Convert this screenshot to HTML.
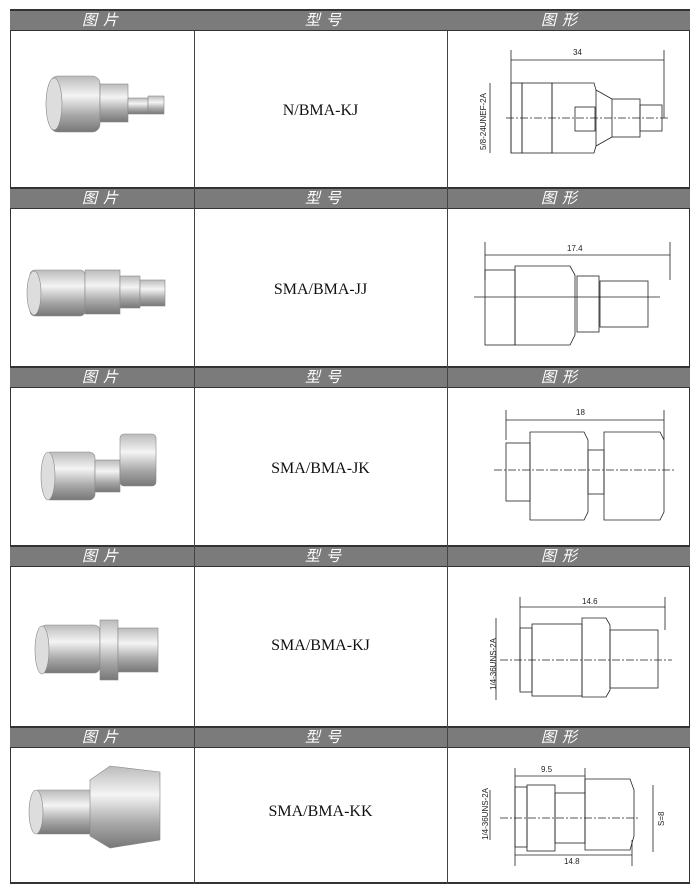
<!DOCTYPE html>
<html><head><meta charset="utf-8"><style>
body{margin:0;background:#fff;width:700px;height:888px;position:relative;overflow:hidden;font-family:"Liberation Serif","Noto Serif CJK SC",serif}
.h{position:absolute;left:10px;width:680px;height:22px;background:#7b7b7b;border-top:2px solid #333;border-bottom:1px solid #333;box-sizing:border-box}
.h span{position:absolute;top:0px;line-height:19px;color:#fff;font-style:italic;font-size:15px;font-family:"Liberation Sans","Noto Sans CJK SC",sans-serif;letter-spacing:6px}
.v{position:absolute;width:1px;background:#444}
.m{position:absolute;left:194px;width:253px;text-align:center;font-size:16px;color:#111}
svg{position:absolute;left:0;top:0}
</style></head><body>
<div style="position:absolute;left:10px;top:9px;width:680px;height:875px;border:1px solid #333;border-width:0 1px 2px 1px;box-sizing:border-box"></div>
<div class="h" style="top:9px"><span style="left:72px">图片</span><span style="left:295px">型号</span><span style="left:531px">图形</span></div>
<div class="h" style="top:187px"><span style="left:72px">图片</span><span style="left:295px">型号</span><span style="left:531px">图形</span></div>
<div class="h" style="top:366px"><span style="left:72px">图片</span><span style="left:295px">型号</span><span style="left:531px">图形</span></div>
<div class="h" style="top:545px"><span style="left:72px">图片</span><span style="left:295px">型号</span><span style="left:531px">图形</span></div>
<div class="h" style="top:726px"><span style="left:72px">图片</span><span style="left:295px">型号</span><span style="left:531px">图形</span></div>
<div class="v" style="left:194px;top:31px;height:853px"></div>
<div class="v" style="left:447px;top:31px;height:853px"></div>
<div class="m" style="top:102px">N/BMA-KJ</div>
<div class="m" style="top:281px">SMA/BMA-JJ</div>
<div class="m" style="top:460px">SMA/BMA-JK</div>
<div class="m" style="top:637px">SMA/BMA-KJ</div>
<div class="m" style="top:803px">SMA/BMA-KK</div>
<svg width="700" height="888">
<defs><linearGradient id="g" x1="0" y1="0" x2="0" y2="1"><stop offset="0" stop-color="#bbb"/><stop offset=".35" stop-color="#f4f4f4"/><stop offset=".7" stop-color="#a8a8a8"/><stop offset="1" stop-color="#777"/></linearGradient></defs>
<g fill="url(#g)" stroke="#888" stroke-width=".6">
<rect x="50" y="76" width="50" height="56" rx="8"/><ellipse cx="54" cy="104" rx="8" ry="26" fill="#ddd"/><rect x="100" y="84" width="28" height="38"/><rect x="128" y="98" width="20" height="16"/><rect x="148" y="96" width="16" height="18"/>
<rect x="30" y="270" width="55" height="46" rx="5"/><ellipse cx="34" cy="293" rx="7" ry="22" fill="#ddd"/><rect x="85" y="270" width="35" height="44"/><rect x="120" y="276" width="20" height="32"/><rect x="140" y="280" width="25" height="26"/>
<rect x="45" y="452" width="50" height="48" rx="6"/><ellipse cx="48" cy="476" rx="7" ry="24" fill="#ddd"/><rect x="95" y="460" width="25" height="32"/><rect x="120" y="434" width="36" height="52" rx="4"/>
<rect x="40" y="625" width="60" height="48" rx="6"/><ellipse cx="42" cy="650" rx="7" ry="24" fill="#ddd"/><rect x="100" y="620" width="18" height="60"/><rect x="118" y="628" width="40" height="44"/>
<rect x="34" y="790" width="60" height="44" rx="4"/><ellipse cx="36" cy="812" rx="7" ry="22" fill="#ddd"/><polygon points="90,780 110,766 160,772 160,840 110,848 90,836"/>
</g>
<g fill="none" stroke="#222" stroke-width=".8">
<line x1="511" y1="50" x2="511" y2="153"/><line x1="664" y1="50" x2="664" y2="118"/><line x1="511" y1="60" x2="664" y2="60"/>
<rect x="511" y="83" width="11" height="70"/><rect x="522" y="83" width="30" height="70"/><polygon points="552,83 594,83 596,90 596,146 594,153 552,153"/><line x1="596" y1="90" x2="612" y2="99"/><line x1="596" y1="146" x2="612" y2="137"/><rect x="612" y="99" width="28" height="38"/><rect x="640" y="105" width="22" height="26"/><rect x="575" y="107" width="20" height="24"/>
<line x1="506" y1="118" x2="668" y2="118" stroke-dasharray="8 2 2 2"/>
<line x1="490" y1="83" x2="490" y2="153"/>
<line x1="474" y1="297" x2="660" y2="297"/><line x1="485" y1="242" x2="485" y2="280"/><line x1="670" y1="242" x2="670" y2="280"/><line x1="485" y1="255" x2="670" y2="255"/>
<rect x="485" y="270" width="30" height="75"/><polygon points="515,266 570,266 575,275 575,335 570,345 515,345"/><rect x="577" y="276" width="22" height="56"/><rect x="600" y="281" width="48" height="46"/>
<line x1="506" y1="420" x2="664" y2="420"/><line x1="506" y1="410" x2="506" y2="440"/><line x1="664" y1="410" x2="664" y2="440"/>
<rect x="506" y="443" width="24" height="58"/><polygon points="530,432 584,432 588,440 588,512 584,520 530,520"/><rect x="588" y="450" width="16" height="44"/><polygon points="604,432 660,432 664,440 664,512 660,520 604,520"/><line x1="494" y1="470" x2="675" y2="470" stroke-dasharray="8 2 2 2"/>
<line x1="520" y1="607" x2="665" y2="607"/><line x1="520" y1="597" x2="520" y2="690"/><line x1="665" y1="597" x2="665" y2="630"/>
<rect x="520" y="628" width="12" height="64"/><rect x="532" y="624" width="50" height="72"/><polygon points="582,618 606,618 610,625 610,690 606,697 582,697"/><rect x="610" y="630" width="48" height="58"/><line x1="500" y1="660" x2="672" y2="660" stroke-dasharray="8 2 2 2"/><line x1="496" y1="618" x2="496" y2="700"/>
<line x1="515" y1="776" x2="585" y2="776"/><line x1="515" y1="768" x2="515" y2="866"/><line x1="585" y1="768" x2="585" y2="800"/><line x1="515" y1="855" x2="632" y2="855"/><line x1="632" y1="840" x2="632" y2="866"/>
<rect x="515" y="787" width="12" height="60"/><rect x="527" y="785" width="28" height="66"/><rect x="555" y="793" width="30" height="50"/><polygon points="585,779 630,779 634,790 634,836 630,850 585,850"/><line x1="500" y1="818" x2="640" y2="818" stroke-dasharray="8 2 2 2"/><line x1="653" y1="785" x2="653" y2="852"/><line x1="490" y1="790" x2="490" y2="840"/>
</g>
<g font-family="Liberation Sans" font-size="8" fill="#222">
<text x="573" y="55">34</text><text x="567" y="251">17.4</text><text x="576" y="415">18</text><text x="582" y="604">14.6</text><text x="541" y="772">9.5</text><text x="564" y="864">14.8</text>
<text transform="translate(486,150) rotate(-90)">5/8-24UNEF-2A</text>
<text transform="translate(496,690) rotate(-90)">1/4-36UNS-2A</text>
<text transform="translate(488,840) rotate(-90)">1/4-36UNS-2A</text>
<text transform="translate(664,826) rotate(-90)">S=8</text>
</g>
</svg>
</body></html>
